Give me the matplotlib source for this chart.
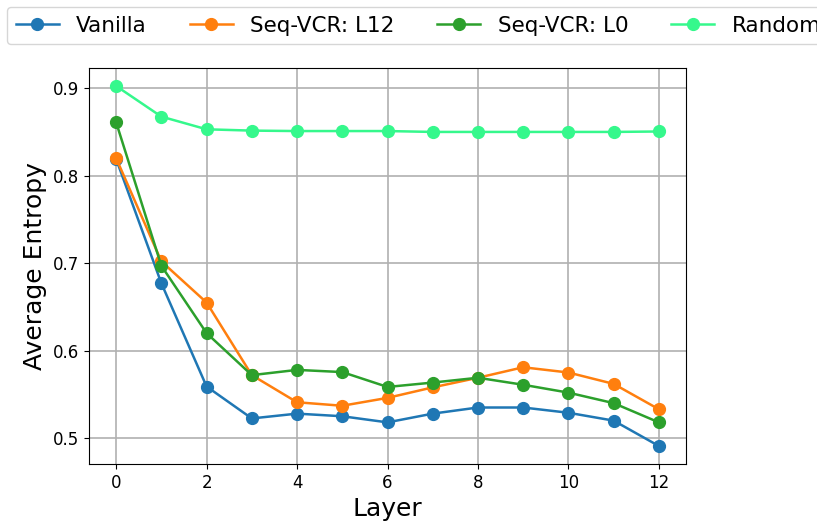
import matplotlib
matplotlib.use("Agg")
import matplotlib.pyplot as plt

layers = list(range(13))
vanilla = [0.819, 0.677, 0.559, 0.5225, 0.528, 0.525, 0.518, 0.528, 0.535, 0.535, 0.529, 0.520, 0.491]
seq_vcr_l12 = [0.820, 0.702, 0.655, 0.572, 0.541, 0.537, 0.546, 0.558, 0.569, 0.581, 0.575, 0.562, 0.533]
seq_vcr_l0 = [0.861, 0.697, 0.620, 0.572, 0.578, 0.5755, 0.5585, 0.5635, 0.569, 0.561, 0.552, 0.540, 0.518]
random_init = [0.9025, 0.8675, 0.853, 0.8515, 0.851, 0.851, 0.851, 0.850, 0.850, 0.850, 0.850, 0.850, 0.8505]

series = [
    ("Vanilla", vanilla, "#1f77b4"),
    ("Seq-VCR: L12", seq_vcr_l12, "#ff7f0e"),
    ("Seq-VCR: L0", seq_vcr_l0, "#2ca02c"),
    ("Random", random_init, "#35f88c"),
]

W, H = 817, 525
fig = plt.figure(figsize=(W / 100, H / 100), dpi=100)
ax = fig.add_axes([89 / W, 1 - 464 / H, (686 - 89) / W, (464 - 68) / H])

for name, vals, color in series:
    ax.plot(layers, vals, marker="o", markersize=8.5, linewidth=1.8, color=color, label=name)

ax.grid(True, color="#b0b0b0", linewidth=1.2)
ax.set_xticks([0, 2, 4, 6, 8, 10, 12])
ax.set_yticks([0.5, 0.6, 0.7, 0.8, 0.9])
ax.tick_params(labelsize=12)
ax.set_xlabel("Layer", fontsize=18)
ax.set_ylabel("Average Entropy", fontsize=18)

fig.legend(loc="upper left", bbox_to_anchor=(7 / W, 1 - 7 / H), ncol=4,
           fontsize=15.5, borderaxespad=0, frameon=True)

fig.savefig("out.png", dpi=100)
